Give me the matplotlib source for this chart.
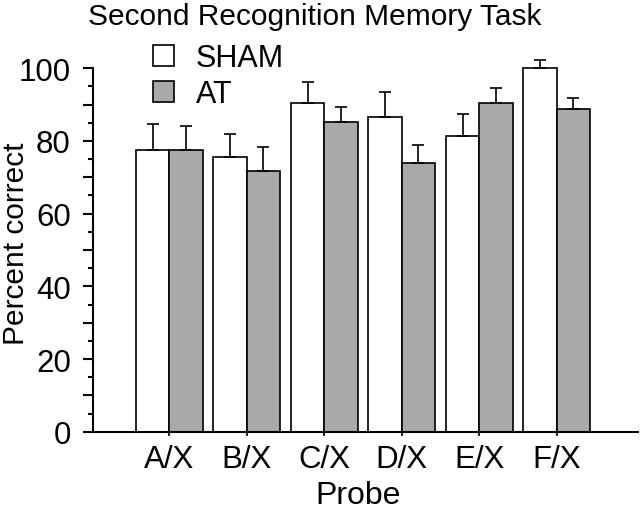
import matplotlib
matplotlib.use('Agg')
import matplotlib.pyplot as plt
import numpy as np
from matplotlib.patches import Patch
from matplotlib.ticker import FixedLocator, FuncFormatter

probes = ['A/X', 'B/X', 'C/X', 'D/X', 'E/X', 'F/X']
sham = [77.5, 75.5, 90.4, 86.7, 81.4, 100.0]
shamErr = [7.1, 6.5, 5.9, 6.9, 6.0, 2.2]
at = [77.5, 71.7, 85.1, 73.9, 90.5, 88.8]
atErr = [6.7, 6.6, 4.2, 4.9, 4.2, 2.9]

plt.rcParams['font.family'] = ['Liberation Sans', 'DejaVu Sans']

fig = plt.figure(figsize=(6.4, 5.1), dpi=100)
ax = fig.add_axes([93 / 640, 77.3 / 510, 1 - 93 / 640 - 0.003, (432.7 - 69.3) / 510])

x = np.arange(len(probes))
w = 0.43
errKw = dict(ecolor='black', elinewidth=1.2, capsize=4.3, capthick=1.2, clip_on=False)
b1 = ax.bar(x - w / 2, sham, w, color='white', edgecolor='black', linewidth=1.2,
            yerr=[np.zeros(len(sham)), shamErr], error_kw=errKw, clip_on=False)
b2 = ax.bar(x + w / 2, at, w, color='#a9a9a9', edgecolor='black', linewidth=1.2,
            yerr=[np.zeros(len(at)), atErr], error_kw=errKw, clip_on=False)

ax.set_xlim(-0.984, 6.05)
ax.set_ylim(0, 100)
ax.spines['top'].set_visible(False)
ax.spines['right'].set_visible(False)
ax.spines['left'].set_linewidth(1.5)
ax.spines['bottom'].set_linewidth(1.5)

ax.set_xticks(x)
ax.set_xticklabels(probes, fontsize=22.5)
ax.yaxis.set_major_locator(FixedLocator(np.arange(0, 101, 10)))
ax.yaxis.set_minor_locator(FixedLocator(np.arange(5, 100, 10)))
ax.yaxis.set_major_formatter(FuncFormatter(lambda v, p: '%d' % v if int(round(v)) % 20 == 0 else ''))
ax.tick_params(axis='y', which='major', length=7, width=1.5, labelsize=22.5, pad=9)
ax.tick_params(axis='y', which='minor', length=3.6, width=1.5)
ax.tick_params(axis='x', length=3, width=1.2, pad=6)

fig.text(315 / 640, 1 - 25 / 510, 'Second Recognition Memory Task', fontsize=21.5,
         ha='center', va='baseline')
fig.text(16 / 640, 1 - 244 / 510, 'Percent correct', fontsize=21.5, rotation=90,
         ha='center', va='center')
fig.text(358 / 640, 1 - 504 / 510, 'Probe', fontsize=23, ha='center', va='baseline')

handles = [Patch(facecolor='white', edgecolor='black', linewidth=1.2),
           Patch(facecolor='#a9a9a9', edgecolor='black', linewidth=1.2)]
fig.legend(handles, ['SHAM', 'AT'], loc='upper left', bbox_to_anchor=(153 / 640, 1 - 44 / 510),
           frameon=False, fontsize=22, handlelength=0.69, handleheight=0.69,
           handletextpad=0.72, labelspacing=0.2, borderaxespad=0, borderpad=0)

fig.savefig('out.png', dpi=100)
